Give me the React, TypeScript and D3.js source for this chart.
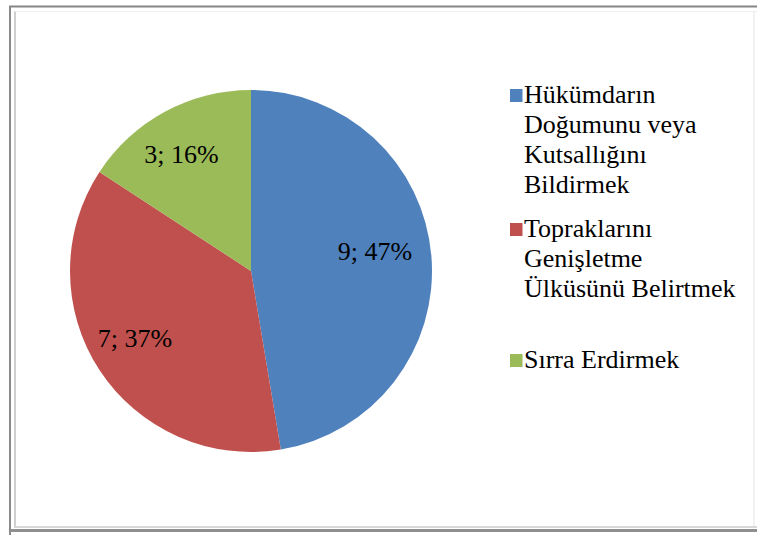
import React from "react";
import * as d3 from "d3";

const categories = [
  ["Hükümdarın", "Doğumunu veya", "Kutsallığını", "Bildirmek"],
  ["Topraklarını", "Genişletme", "Ülküsünü Belirtmek"],
  ["Sırra Erdirmek"],
];
const values = [9, 7, 3];
const percents = ["47%", "37%", "16%"];
const colors = ["#4f81bd", "#c0504d", "#9bbb59"];
const legendTops = [103, 237, 368];

const W = 757;
const H = 535;
const cx = 251;
const cy = 271;
const R = 181;
const font = '"Liberation Serif", Tinos, "Times New Roman", Times, "DejaVu Serif", serif';

export default function App() {
  const pie = d3.pie<number>().sort(null).value((d) => d)(values);
  const arc = d3.arc<d3.PieArcDatum<number>>().innerRadius(0).outerRadius(R);
  const lrs = [125.6, 134, 136];
  const shift = [-0.078, 0.056, -0.04];
  return (
    <svg
      width={W}
      height={H}
      style={{ position: "absolute", left: 0, top: 0, background: "#fff", fontFamily: font }}
    >
      {/* frame */}
      <line x1={9} x2={W} y1={6.5} y2={6.5} stroke="#858585" strokeWidth={2} />
      <line x1={10} x2={10} y1={6} y2={H} stroke="#8a8a8a" strokeWidth={2} />
      <line x1={15} x2={15} y1={11} y2={528} stroke="#cfcfcf" strokeWidth={2} />
      <line x1={15} x2={W} y1={11.5} y2={11.5} stroke="#f0f0f0" strokeWidth={1} />
      <line x1={754} x2={754} y1={11} y2={528} stroke="#e4e4e4" strokeWidth={1} />
      <line x1={15} x2={W} y1={527} y2={527} stroke="#d8d8d8" strokeWidth={2} />
      <line x1={10} x2={W} y1={530.5} y2={530.5} stroke="#8f8f8f" strokeWidth={3} />
      <g transform={`translate(${cx},${cy})`}>
        {pie.map((p, i) => (
          <path key={i} d={arc(p) || ""} fill={colors[i]} />
        ))}
        {pie.map((p, i) => {
          const a = (p.startAngle + p.endAngle) / 2 + shift[i];
          const x = lrs[i] * Math.sin(a);
          const y = -lrs[i] * Math.cos(a);
          return (
            <text
              key={i}
              x={x}
              y={y}
              dy="0.35em"
              textAnchor="middle"
              fontSize={26}
              fill="#000"
              style={{ fontFamily: font }}
            >
              {`${values[i]}; ${percents[i]}`}
            </text>
          );
        })}
      </g>
      {categories.map((lines, i) => (
        <g key={i}>
          <rect x={510} y={legendTops[i] - 14} width={12.5} height={13} fill={colors[i]} />
          {lines.map((ln, j) => (
            <text
              key={j}
              x={524}
              y={legendTops[i] + j * 30}
              fontSize={26}
              fill="#000"
              style={{ fontFamily: font }}
            >
              {ln}
            </text>
          ))}
        </g>
      ))}
    </svg>
  );
}
